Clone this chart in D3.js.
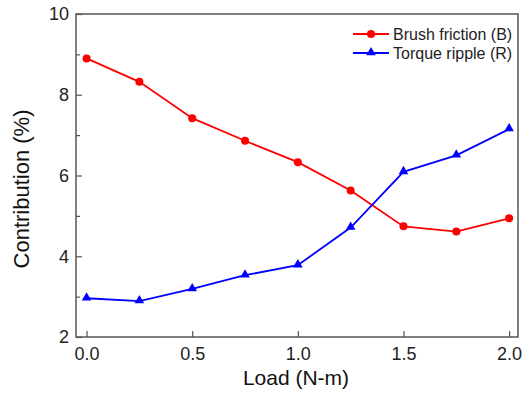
<!DOCTYPE html>
<html>
<head>
<meta charset="utf-8">
<script src="https://d3js.org/d3.v7.min.js"></script>
<style>
body { margin: 0; background: #fff; }
text { font-family: "Liberation Sans", Arial, sans-serif; }
</style>
</head>
<body>
<script>
var loads = [0, 0.25, 0.5, 0.75, 1.0, 1.25, 1.5, 1.75, 2.0];
var brush = [8.9, 8.32, 7.42, 6.86, 6.33, 5.63, 4.74, 4.61, 4.94];
var ripple = [2.96, 2.89, 3.19, 3.53, 3.78, 4.71, 6.09, 6.5, 7.15];
var xTicks = [0, 0.5, 1.0, 1.5, 2.0];
var yTicks = [2, 4, 6, 8, 10];
var yMinor = [3, 5, 7, 9];
var seriesNames = ["Brush friction (B)", "Torque ripple (R)"];

var W = 522, H = 400;
var plotL = 76, plotR = 518, plotT = 14, plotB = 337;

var svg = d3.select("body").append("svg").attr("width", W).attr("height", H);

var x = d3.scaleLinear().domain([-0.05, 2.042]).range([plotL, plotR]);
var y = d3.scaleLinear().domain([2, 10]).range([plotB, plotT]);

var axisColor = "#555";

// frame
svg.append("rect")
  .attr("x", plotL).attr("y", plotT)
  .attr("width", plotR - plotL).attr("height", plotB - plotT)
  .attr("fill", "none").attr("stroke", axisColor).attr("stroke-width", 1.5);

// x axis (ticks inward)
var xAxis = svg.append("g").attr("transform", "translate(0," + plotB + ")")
  .call(d3.axisBottom(x).tickValues(xTicks).tickSizeInner(-6).tickSizeOuter(0)
    .tickPadding(10).tickFormat(d3.format(".1f")));
xAxis.select(".domain").remove();
xAxis.selectAll("line").attr("stroke", axisColor).attr("stroke-width", 1.2);
xAxis.selectAll("text").attr("font-size", 18).attr("fill", "#222")
  .attr("font-family", "Liberation Sans, Arial, sans-serif");

// y axis
var yAxis = svg.append("g").attr("transform", "translate(" + plotL + ",0)")
  .call(d3.axisLeft(y).tickValues(yTicks).tickSizeInner(-6).tickSizeOuter(0)
    .tickPadding(7).tickFormat(d3.format("d")));
yAxis.select(".domain").remove();
yAxis.selectAll("line").attr("stroke", axisColor).attr("stroke-width", 1.2);
yAxis.selectAll("text").attr("font-size", 18).attr("fill", "#222")
  .attr("font-family", "Liberation Sans, Arial, sans-serif");

var yMin = svg.append("g").attr("transform", "translate(" + plotL + ",0)")
  .call(d3.axisLeft(y).tickValues(yMinor).tickSizeInner(-4).tickSizeOuter(0).tickFormat(""));
yMin.select(".domain").remove();
yMin.selectAll("line").attr("stroke", axisColor).attr("stroke-width", 1.2);

// axis titles
svg.append("text").attr("x", 296).attr("y", 385)
  .attr("text-anchor", "middle").attr("font-size", 21).attr("fill", "#111")
  .text("Load (N-m)");
svg.append("text").attr("transform", "translate(29,189) rotate(-90)")
  .attr("text-anchor", "middle").attr("font-size", 22).attr("fill", "#111")
  .text("Contribution (%)");

var line = d3.line().x(function(d) { return x(d[0]); }).y(function(d) { return y(d[1]); });
var brushPts = loads.map(function(l, i) { return [l, brush[i]]; });
var ripplePts = loads.map(function(l, i) { return [l, ripple[i]]; });

svg.append("path").datum(brushPts).attr("d", line)
  .attr("fill", "none").attr("stroke", "#ff0000").attr("stroke-width", 1.8);
svg.append("path").datum(ripplePts).attr("d", line)
  .attr("fill", "none").attr("stroke", "#0000ff").attr("stroke-width", 1.8);

var tri = d3.symbol().type(d3.symbolTriangle).size(40);

svg.append("g").selectAll("circle").data(brushPts).enter().append("circle")
  .attr("cx", function(d) { return x(d[0]); })
  .attr("cy", function(d) { return y(d[1]); })
  .attr("r", 4).attr("fill", "#ff0000");
svg.append("g").selectAll("path").data(ripplePts).enter().append("path")
  .attr("d", tri)
  .attr("transform", function(d) { return "translate(" + x(d[0]) + "," + (y(d[1]) - 0.5) + ")"; })
  .attr("fill", "#0000ff");

// legend
var lg = svg.append("g");
var lgColors = ["#ff0000", "#0000ff"];
seriesNames.forEach(function(name, i) {
  var ly = 34 + i * 19;
  lg.append("line").attr("x1", 353).attr("x2", 389).attr("y1", ly).attr("y2", ly)
    .attr("stroke", lgColors[i]).attr("stroke-width", 1.8);
  if (i === 0) {
    lg.append("circle").attr("cx", 371).attr("cy", ly).attr("r", 4).attr("fill", lgColors[i]);
  } else {
    lg.append("path").attr("d", tri).attr("transform", "translate(371," + (ly - 0.5) + ")")
      .attr("fill", lgColors[i]);
  }
  lg.append("text").attr("x", 393).attr("y", ly + 6).attr("font-size", 16).attr("fill", "#222")
    .text(name);
});
</script>
</body>
</html>
